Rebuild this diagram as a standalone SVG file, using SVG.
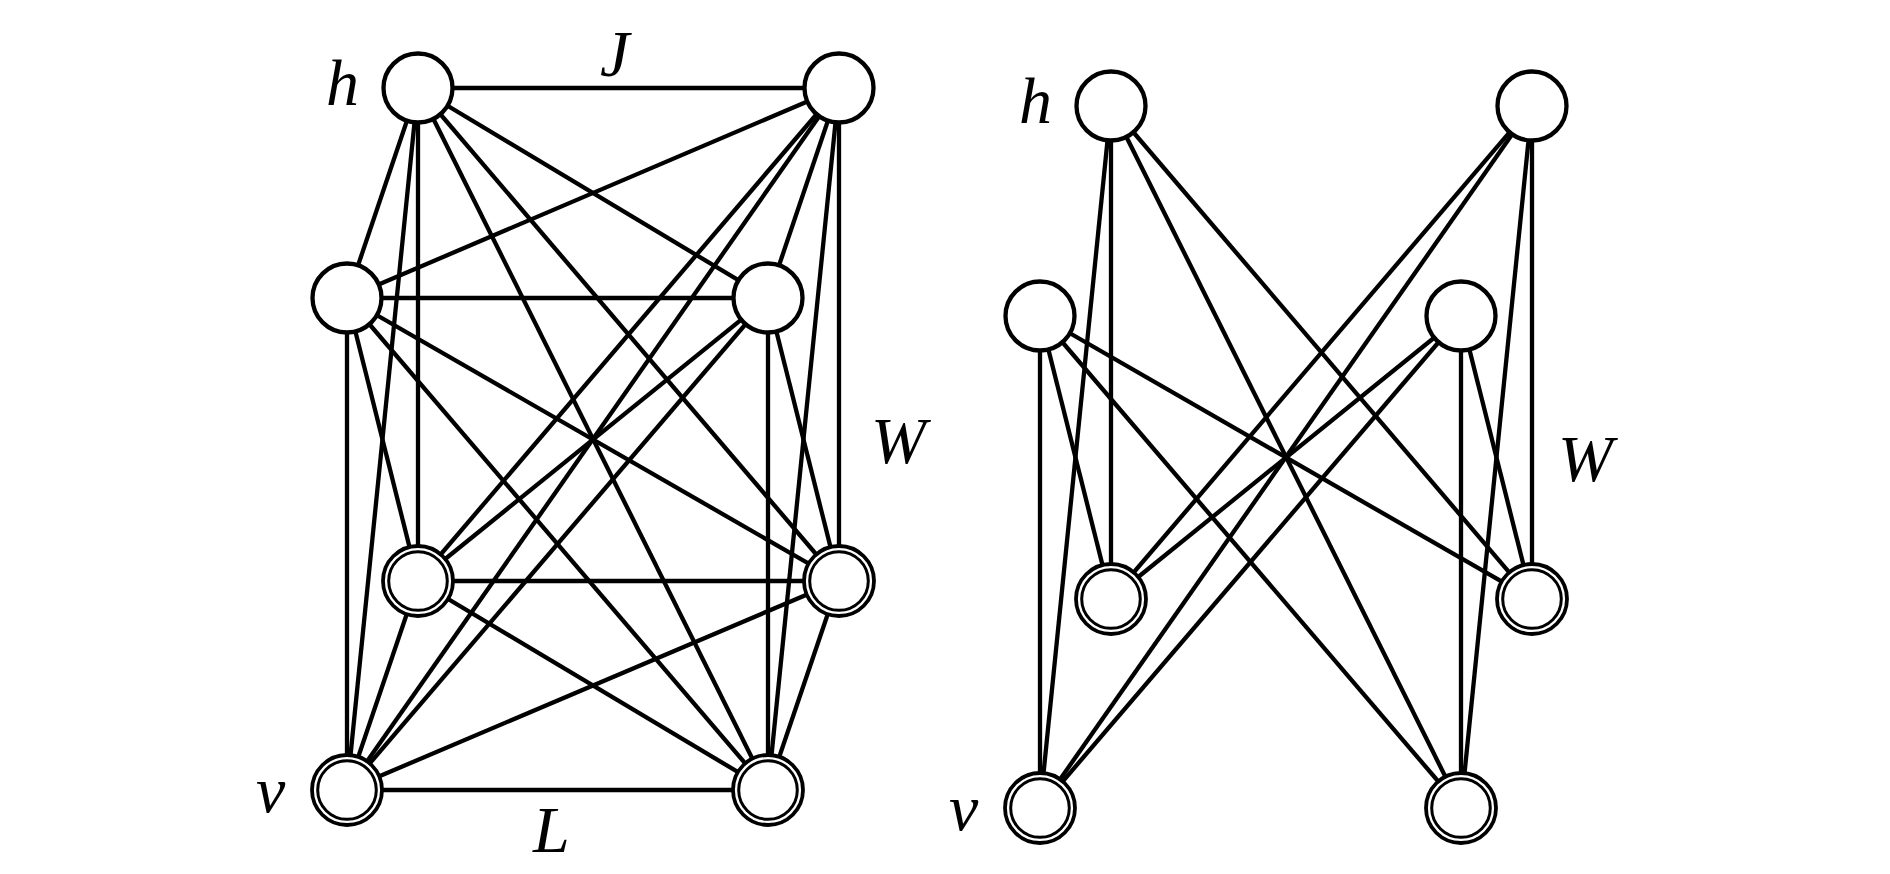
<svg xmlns="http://www.w3.org/2000/svg" width="1890" height="874" viewBox="0 0 1890 874">
<style>
.edge line{stroke:#000;stroke-width:4.3;stroke-linecap:butt}
.hid{fill:#fff;stroke:#000;stroke-width:4.3}
.vo{fill:#fff;stroke:#000;stroke-width:3.8}
.vi{fill:none;stroke:#000;stroke-width:3}
.lbl{font-family:"Liberation Serif","Times New Roman",serif;font-style:italic;font-size:66px;fill:#000}
</style>
<rect width="1890" height="874" fill="#fff"/>
<g id="connectors" class="edge">
<line x1="418" y1="88" x2="839" y2="88"/>
<line x1="418" y1="88" x2="347" y2="298"/>
<line x1="418" y1="88" x2="768" y2="298"/>
<line x1="839" y1="88" x2="347" y2="298"/>
<line x1="839" y1="88" x2="768" y2="298"/>
<line x1="347" y1="298" x2="768" y2="298"/>
<line x1="418" y1="581" x2="839" y2="581"/>
<line x1="418" y1="581" x2="347" y2="790"/>
<line x1="418" y1="581" x2="768" y2="790"/>
<line x1="839" y1="581" x2="347" y2="790"/>
<line x1="839" y1="581" x2="768" y2="790"/>
<line x1="347" y1="790" x2="768" y2="790"/>
<line x1="418" y1="88" x2="418" y2="581"/>
<line x1="418" y1="88" x2="839" y2="581"/>
<line x1="418" y1="88" x2="347" y2="790"/>
<line x1="418" y1="88" x2="768" y2="790"/>
<line x1="839" y1="88" x2="418" y2="581"/>
<line x1="839" y1="88" x2="839" y2="581"/>
<line x1="839" y1="88" x2="347" y2="790"/>
<line x1="839" y1="88" x2="768" y2="790"/>
<line x1="347" y1="298" x2="418" y2="581"/>
<line x1="347" y1="298" x2="839" y2="581"/>
<line x1="347" y1="298" x2="347" y2="790"/>
<line x1="347" y1="298" x2="768" y2="790"/>
<line x1="768" y1="298" x2="418" y2="581"/>
<line x1="768" y1="298" x2="839" y2="581"/>
<line x1="768" y1="298" x2="347" y2="790"/>
<line x1="768" y1="298" x2="768" y2="790"/>
<line x1="1111" y1="106" x2="1111" y2="599"/>
<line x1="1111" y1="106" x2="1532" y2="599"/>
<line x1="1111" y1="106" x2="1040" y2="808"/>
<line x1="1111" y1="106" x2="1461" y2="808"/>
<line x1="1532" y1="106" x2="1111" y2="599"/>
<line x1="1532" y1="106" x2="1532" y2="599"/>
<line x1="1532" y1="106" x2="1040" y2="808"/>
<line x1="1532" y1="106" x2="1461" y2="808"/>
<line x1="1040" y1="316" x2="1111" y2="599"/>
<line x1="1040" y1="316" x2="1532" y2="599"/>
<line x1="1040" y1="316" x2="1040" y2="808"/>
<line x1="1040" y1="316" x2="1461" y2="808"/>
<line x1="1461" y1="316" x2="1111" y2="599"/>
<line x1="1461" y1="316" x2="1532" y2="599"/>
<line x1="1461" y1="316" x2="1040" y2="808"/>
<line x1="1461" y1="316" x2="1461" y2="808"/>
</g>
<g id="left-h1"><circle class="hid" cx="418" cy="88" r="34.5"/></g>
<g id="left-h2"><circle class="hid" cx="839" cy="88" r="34.5"/></g>
<g id="left-h3"><circle class="hid" cx="347" cy="298" r="34.5"/></g>
<g id="left-h4"><circle class="hid" cx="768" cy="298" r="34.5"/></g>
<g id="left-v1"><circle class="vo" cx="418" cy="581" r="35"/><circle class="vi" cx="418" cy="581" r="29.3"/></g>
<g id="left-v2"><circle class="vo" cx="839" cy="581" r="35"/><circle class="vi" cx="839" cy="581" r="29.3"/></g>
<g id="left-v3"><circle class="vo" cx="347" cy="790" r="35"/><circle class="vi" cx="347" cy="790" r="29.3"/></g>
<g id="left-v4"><circle class="vo" cx="768" cy="790" r="35"/><circle class="vi" cx="768" cy="790" r="29.3"/></g>
<g id="right-h1"><circle class="hid" cx="1111" cy="106" r="34.5"/></g>
<g id="right-h2"><circle class="hid" cx="1532" cy="106" r="34.5"/></g>
<g id="right-h3"><circle class="hid" cx="1040" cy="316" r="34.5"/></g>
<g id="right-h4"><circle class="hid" cx="1461" cy="316" r="34.5"/></g>
<g id="right-v1"><circle class="vo" cx="1111" cy="599" r="35"/><circle class="vi" cx="1111" cy="599" r="29.3"/></g>
<g id="right-v2"><circle class="vo" cx="1532" cy="599" r="35"/><circle class="vi" cx="1532" cy="599" r="29.3"/></g>
<g id="right-v3"><circle class="vo" cx="1040" cy="808" r="35"/><circle class="vi" cx="1040" cy="808" r="29.3"/></g>
<g id="right-v4"><circle class="vo" cx="1461" cy="808" r="35"/><circle class="vi" cx="1461" cy="808" r="29.3"/></g>
<g id="labels">
<text class="lbl" x="326" y="105">h</text>
<text class="lbl" x="600" y="76">J</text>
<text class="lbl" x="871" y="463">W</text>
<text class="lbl" x="256" y="812">v</text>
<text class="lbl" x="533" y="852">L</text>
<text class="lbl" x="1019" y="123">h</text>
<text class="lbl" x="1558" y="481">W</text>
<text class="lbl" x="949" y="830">v</text>
</g>
</svg>
